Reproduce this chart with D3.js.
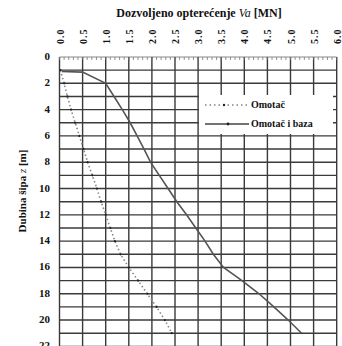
<!DOCTYPE html>
<meta charset="utf-8">
<style>
body { margin: 0; background: #fff; }
text { font-family: "Liberation Serif", "DejaVu Serif", serif; font-weight: bold; fill: #111; }
</style>
<body>
<svg id="chart" width="342" height="346"></svg>
</body>
<script src="https://d3js.org/d3.v7.min.js"></script>
<script>
// depth (m) and allowable load (MN)
var depths = [1, 2, 3, 4, 5, 6, 7, 8, 9, 10, 11, 12, 13, 14, 15, 16, 17, 18, 19, 20, 21];
var omotac = [0.02, 0.1, 0.17, 0.25, 0.34, 0.43, 0.52, 0.61, 0.71, 0.81, 0.9, 1.0, 1.1, 1.2, 1.32, 1.5, 1.7, 1.9, 2.1, 2.28, 2.43];
var baza = [0.5, 1.0, 1.18, 1.36, 1.53, 1.68, 1.83, 1.97, 2.16, 2.35, 2.54, 2.75, 2.95, 3.15, 3.33, 3.55, 3.95, 4.32, 4.64, 4.95, 5.24];
var bazaStart = [0.05, 1.1]; // first point of the shaft+base curve
var xTicks = [0, 0.5, 1, 1.5, 2, 2.5, 3, 3.5, 4, 4.5, 5, 5.5, 6];
var yTicks = [0, 2, 4, 6, 8, 10, 12, 14, 16, 18, 20, 22];
var seriesNames = ["Omotač", "Omotač i baza"];

var svg = d3.select("#chart");

var x = d3.scaleLinear().domain([0, 6]).range([59.5, 336.7]),
    y = d3.scaleLinear().domain([0, 21]).range([57, 333.2]);

// grid
var grid = svg.append("g").attr("class", "grid");
grid.selectAll("line.h").data(d3.range(0, 24))
  .enter().append("line").attr("class", "h")
  .attr("x1", x(0)).attr("x2", x(6))
  .attr("y1", function(d){ return y(d); }).attr("y2", function(d){ return y(d); })
  .attr("stroke", function(d){ return d === 0 ? "#888" : "#3a3a3a"; })
  .attr("stroke-width", function(d){ return d === 0 ? 1 : 1.4; });
grid.selectAll("line.v").data(xTicks)
  .enter().append("line").attr("class", "v")
  .attr("x1", function(d){ return x(d); }).attr("x2", function(d){ return x(d); })
  .attr("y1", y(0)).attr("y2", 346)
  .attr("stroke", "#3a3a3a").attr("stroke-width", 1.4);

// minor ticks along the top edge
grid.selectAll("line.m").data(d3.range(0, 61))
  .enter().append("line").attr("class", "m")
  .attr("x1", function(d){ return x(d / 10); }).attr("x2", function(d){ return x(d / 10); })
  .attr("y1", y(0)).attr("y2", y(0) + 3)
  .attr("stroke", "#777").attr("stroke-width", 0.8);

// axes
var xAxis = svg.append("g")
  .attr("transform", "translate(0,44)")
  .call(d3.axisTop(x).tickValues(xTicks).tickFormat(d3.format(".1f")).tickSize(0));
xAxis.select(".domain").remove();
xAxis.selectAll("text")
  .attr("transform", "rotate(-90)")
  .attr("x", 0).attr("y", 0).attr("dy", "0.35em")
  .attr("text-anchor", "start")
  .style("font-size", "10px").style("letter-spacing", "1px")
  .style("font-family", "Liberation Serif").style("font-weight", "bold");

var yAxis = svg.append("g")
  .attr("transform", "translate(50,-1)")
  .call(d3.axisLeft(y).tickValues(yTicks).tickFormat(d3.format("d")).tickSize(0).tickPadding(0));
yAxis.select(".domain").remove();
yAxis.selectAll("text")
  .style("font-size", "11px")
  .style("font-family", "Liberation Serif").style("font-weight", "bold");

// titles
svg.append("text")
  .attr("x", 199).attr("y", 17)
  .attr("text-anchor", "middle")
  .style("font-size", "12px")
  .html('Dozvoljeno opterećenje <tspan font-style="italic" font-weight="normal">Va</tspan> [MN]');

svg.append("text")
  .attr("transform", "translate(26,191) rotate(-90)")
  .attr("text-anchor", "middle")
  .style("font-size", "11px")
  .html('Dubina šipa <tspan font-style="italic" font-weight="normal">z</tspan> [m]');

// series
var line = d3.line().x(function(d){ return x(d[0]); }).y(function(d){ return y(d[1]); });
var omotacPts = depths.map(function(d, i){ return [omotac[i], d]; });
var bazaPts = [bazaStart].concat(depths.map(function(d, i){ return [baza[i], d + (i === 0 ? 0.15 : 0)]; }));

svg.append("path").datum(omotacPts)
  .attr("d", line).attr("fill", "none")
  .attr("stroke", "#888").attr("stroke-width", 1.6)
  .attr("stroke-dasharray", "1.5,2.5");
svg.selectAll("circle.om").data(omotacPts)
  .enter().append("circle").attr("class", "om")
  .attr("cx", function(d){ return x(d[0]); }).attr("cy", function(d){ return y(d[1]); })
  .attr("r", 1.1).attr("fill", "#222");

svg.append("path").datum(bazaPts)
  .attr("d", line).attr("fill", "none")
  .attr("stroke", "#555").attr("stroke-width", 1.6);

// legend
var lg = svg.append("g");
lg.append("rect").attr("x", 199).attr("y", 95).attr("width", 134).attr("height", 39).attr("fill", "#fff");
lg.append("line").attr("x1", 205).attr("x2", 250).attr("y1", 105).attr("y2", 105)
  .attr("stroke", "#444").attr("stroke-width", 1.2).attr("stroke-dasharray", "1.5,3");
lg.append("circle").attr("cx", 224).attr("cy", 105).attr("r", 1.2).attr("fill", "#222");
lg.append("line").attr("x1", 205).attr("x2", 249).attr("y1", 124).attr("y2", 124)
  .attr("stroke", "#444").attr("stroke-width", 1.3);
lg.append("circle").attr("cx", 228).attr("cy", 124).attr("r", 1.4).attr("fill", "#222");
lg.selectAll("text").data(seriesNames)
  .enter().append("text")
  .attr("x", 251).attr("y", function(d, i){ return 108 + i * 19; })
  .style("font-size", "10px")
  .text(function(d){ return d; });
</script>
